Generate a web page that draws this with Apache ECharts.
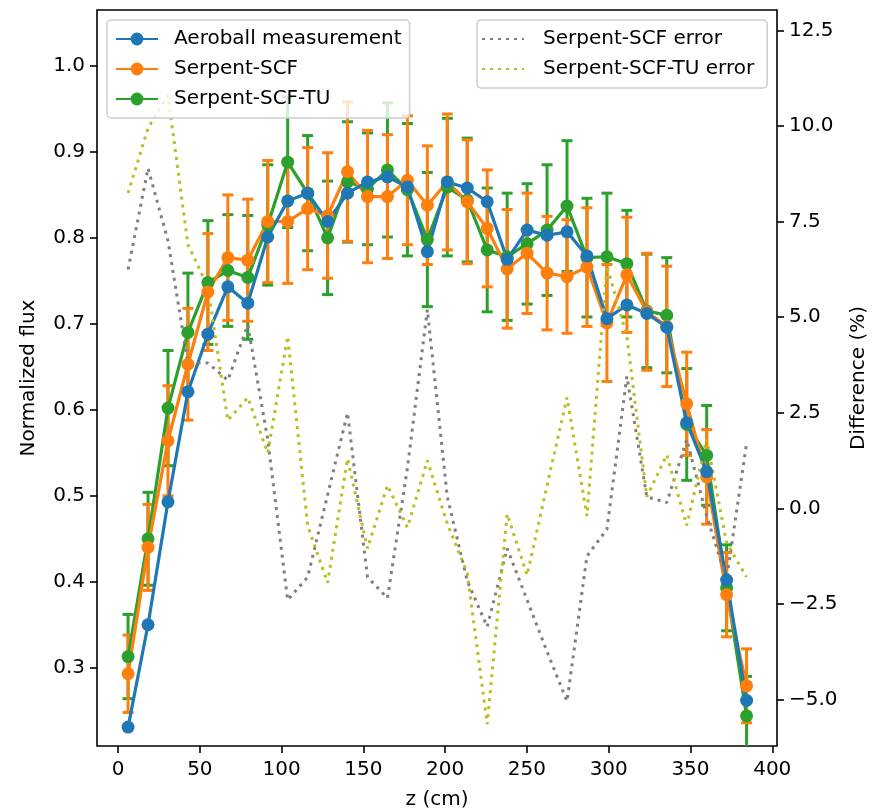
<!DOCTYPE html>
<html>
<head>
<meta charset="utf-8">
<script src="https://cdn.jsdelivr.net/npm/echarts@6/dist/echarts.min.js"></script>
<style>
  html, body { margin: 0; padding: 0; background: #fff; }
  #chart { width: 879px; height: 811px; }
</style>
</head>
<body>
<div id="chart"></div>
<script>
// Axial positions of the measurement points (cm)
const zCm = [6.1, 18.3, 30.5, 42.7, 54.9, 67.1, 79.3, 91.5, 103.7, 115.9, 128.1,
  140.3, 152.5, 164.7, 176.9, 189.1, 201.3, 213.5, 225.7, 237.9, 250.1, 262.3,
  274.5, 286.7, 298.9, 311.1, 323.3, 335.5, 347.7, 359.9, 372.1, 384.3];

// Normalized flux
const aeroball = [0.231, 0.350, 0.493, 0.621, 0.688, 0.743, 0.724, 0.801, 0.843, 0.852, 0.819,
  0.852, 0.865, 0.871, 0.859, 0.784, 0.865, 0.858, 0.842, 0.775, 0.809, 0.803,
  0.807, 0.779, 0.706, 0.722, 0.712, 0.696, 0.585, 0.528, 0.402, 0.262];

const scf = [0.293, 0.440, 0.564, 0.653, 0.737, 0.777, 0.774, 0.819, 0.819, 0.834, 0.826,
  0.877, 0.848, 0.848, 0.867, 0.838, 0.865, 0.842, 0.811, 0.764, 0.782, 0.759,
  0.755, 0.766, 0.701, 0.757, 0.714, 0.697, 0.607, 0.522, 0.385, 0.279];
const scfErr = [0.045, 0.050, 0.064, 0.065, 0.068, 0.073, 0.071, 0.071, 0.072, 0.071, 0.073,
  0.081, 0.077, 0.072, 0.075, 0.069, 0.079, 0.072, 0.068, 0.069, 0.070, 0.066,
  0.066, 0.069, 0.068, 0.067, 0.068, 0.070, 0.060, 0.055, 0.049, 0.043];

const scfTu = [0.313, 0.450, 0.602, 0.690, 0.748, 0.762, 0.754, 0.815, 0.888, 0.852, 0.800,
  0.865, 0.857, 0.879, 0.856, 0.798, 0.859, 0.844, 0.786, 0.778, 0.793, 0.809,
  0.837, 0.777, 0.778, 0.770, 0.715, 0.710, 0.583, 0.547, 0.393, 0.244];
const scfTuErr = [0.049, 0.054, 0.067, 0.069, 0.072, 0.065, 0.072, 0.070, 0.076, 0.067, 0.066,
  0.070, 0.065, 0.078, 0.077, 0.078, 0.080, 0.072, 0.072, 0.074, 0.070, 0.076,
  0.076, 0.069, 0.074, 0.062, 0.066, 0.067, 0.065, 0.058, 0.050, 0.046];

// Relative difference to the measurement (%)
const scfDiff = [6.25, 8.9, 7.0, 3.8, 3.8, 3.35, 4.8, 1.8, -2.4, -1.8, 0.35,
  2.5, -1.8, -2.35, 1.05, 5.2, 0.3, -1.9, -3.1, -1.05, -2.4, -3.75,
  -5.05, -1.25, -0.55, 3.45, 0.3, 0.15, 1.8, -0.2, -1.85, 1.7];
const scfTuDiff = [8.25, 9.95, 10.8, 6.9, 5.8, 2.3, 2.9, 1.45, 4.5, -0.45, -1.95,
  1.3, -1.05, 0.6, -0.5, 1.25, -0.4, -1.7, -5.65, -0.15, -1.75, 0.6,
  2.9, -0.2, 6.35, 4.5, 0.3, 1.4, -0.45, 1.8, -0.9, -1.8];

// Tick positions
const zTicks = [0, 50, 100, 150, 200, 250, 300, 350, 400];
const fluxTicks = [0.3, 0.4, 0.5, 0.6, 0.7, 0.8, 0.9, 1.0];
const diffTicks = [-5, -2.5, 0, 2.5, 5, 7.5, 10, 12.5];

const FONT = 'DejaVu Sans';
const C_BLUE = '#1f77b4', C_ORANGE = '#ff7f0e', C_GREEN = '#2ca02c',
      C_GRAY = '#7f7f7f', C_OLIVE = '#bcbd22';

const pairs = (ys) => zCm.map((z, i) => [z, ys[i]]);

function lineSeries(name, color, ys) {
  return {
    type: 'line', name: name, xAxisIndex: 0, yAxisIndex: 0,
    data: pairs(ys),
    symbol: 'circle', symbolSize: 13, showAllSymbol: true,
    lineStyle: { color: color, width: 3.2 },
    itemStyle: { color: color, borderWidth: 0 },
    emphasis: { disabled: true },
    animation: false
  };
}

function errorBars(name, color, ys, errs) {
  return {
    type: 'custom', name: name, xAxisIndex: 0, yAxisIndex: 0, clip: true,
    data: zCm.map((z, i) => [z, ys[i] - errs[i], ys[i] + errs[i]]),
    encode: { x: 0, y: [1, 2] },
    silent: true,
    renderItem: function (params, api) {
      const lo = api.coord([api.value(0), api.value(1)]);
      const hi = api.coord([api.value(0), api.value(2)]);
      const cap = 5.5;
      const st = { stroke: color, lineWidth: 3, fill: null };
      return {
        type: 'group',
        children: [
          { type: 'line', shape: { x1: lo[0], y1: lo[1], x2: hi[0], y2: hi[1] }, style: st },
          { type: 'line', shape: { x1: lo[0] - cap, y1: lo[1], x2: lo[0] + cap, y2: lo[1] }, style: st },
          { type: 'line', shape: { x1: hi[0] - cap, y1: hi[1], x2: hi[0] + cap, y2: hi[1] }, style: st }
        ]
      };
    },
    animation: false
  };
}

function dottedSeries(name, color, ys) {
  return {
    type: 'line', name: name, xAxisIndex: 0, yAxisIndex: 1,
    data: pairs(ys),
    symbol: 'none',
    lineStyle: { color: color, width: 3, type: [3, 5], cap: 'butt' },
    itemStyle: { color: color },
    emphasis: { disabled: true },
    animation: false
  };
}

const tickStyle = { show: true, inside: false, length: 7, lineStyle: { color: '#000', width: 1.6 } };
const labelStyle = { color: '#000', fontFamily: FONT, fontSize: 20 };
const nameStyle = { color: '#000', fontFamily: FONT, fontSize: 20 };
const hiddenLine = { show: false, onZero: false };

const legendBase = {
  orient: 'vertical',
  itemWidth: 42, itemHeight: 16, itemGap: 10,
  backgroundColor: 'rgba(255,255,255,0.8)',
  borderColor: '#cccccc', borderWidth: 1.5, borderRadius: 4,
  textStyle: { color: '#000', fontFamily: FONT, fontSize: 20, lineHeight: 20 },
  selectedMode: false
};

const option = {
  animation: false,
  backgroundColor: '#fff',
  grid: {
    left: 97, right: 102, top: 10, bottom: 65,
    outerBoundsMode: 'none',
    show: true, borderColor: '#000', borderWidth: 1.6, backgroundColor: 'transparent'
  },
  legend: [
    Object.assign({}, legendBase, {
      left: 107, top: 20, padding: [9, 8, 9, 8],
      data: ['Aeroball measurement', 'Serpent-SCF', 'Serpent-SCF-TU'],
      textStyle: Object.assign({}, legendBase.textStyle, { padding: [0, 0, 0, 11] })
    }),
    Object.assign({}, legendBase, {
      left: 477, top: 20, padding: [9, 13, 9, 4],
      data: [
        { name: 'Serpent-SCF error', itemStyle: { opacity: 0 } },
        { name: 'Serpent-SCF-TU error', itemStyle: { opacity: 0 } }
      ],
      textStyle: Object.assign({}, legendBase.textStyle, { padding: [0, 0, 0, 14] })
    })
  ],
  xAxis: {
    type: 'value', min: -12.9, max: 402.9,
    name: 'z (cm)', nameLocation: 'middle', nameGap: 44, nameTextStyle: nameStyle,
    axisLine: hiddenLine,
    axisTick: Object.assign({}, tickStyle, { customValues: zTicks }),
    axisLabel: Object.assign({}, labelStyle, { margin: 14, customValues: zTicks, formatter: v => String(v) }),
    splitLine: { show: false }
  },
  yAxis: [
    {
      type: 'value', position: 'left', min: 0.209, max: 1.065,
      name: 'Normalized flux', nameLocation: 'middle', nameGap: 58, nameRotate: 90,
      nameTextStyle: nameStyle,
      axisLine: hiddenLine,
      axisTick: Object.assign({}, tickStyle, { customValues: fluxTicks }),
      axisLabel: Object.assign({}, labelStyle, {
        margin: 12, customValues: fluxTicks,
        formatter: v => v.toFixed(1)
      }),
      splitLine: { show: false }
    },
    {
      type: 'value', position: 'right', min: -6.22, max: 13.04,
      name: 'Difference (%)', nameLocation: 'middle', nameGap: 71, nameRotate: 90,
      nameTextStyle: nameStyle,
      axisLine: hiddenLine,
      axisTick: Object.assign({}, tickStyle, { customValues: diffTicks }),
      axisLabel: Object.assign({}, labelStyle, {
        margin: 12, customValues: diffTicks,
        formatter: v => (v < 0 ? '\u2212' : '') + Math.abs(v).toFixed(1)
      }),
      splitLine: { show: false }
    }
  ],
  series: [
    errorBars('Serpent-SCF-TU bars', C_GREEN, scfTu, scfTuErr),
    lineSeries('Serpent-SCF-TU', C_GREEN, scfTu),
    errorBars('Serpent-SCF bars', C_ORANGE, scf, scfErr),
    lineSeries('Serpent-SCF', C_ORANGE, scf),
    lineSeries('Aeroball measurement', C_BLUE, aeroball),
    dottedSeries('Serpent-SCF error', C_GRAY, scfDiff),
    dottedSeries('Serpent-SCF-TU error', C_OLIVE, scfTuDiff)
  ]
};

const chart = echarts.init(document.getElementById('chart'), null, { renderer: 'canvas' });
chart.setOption(option);
</script>
</body>
</html>
